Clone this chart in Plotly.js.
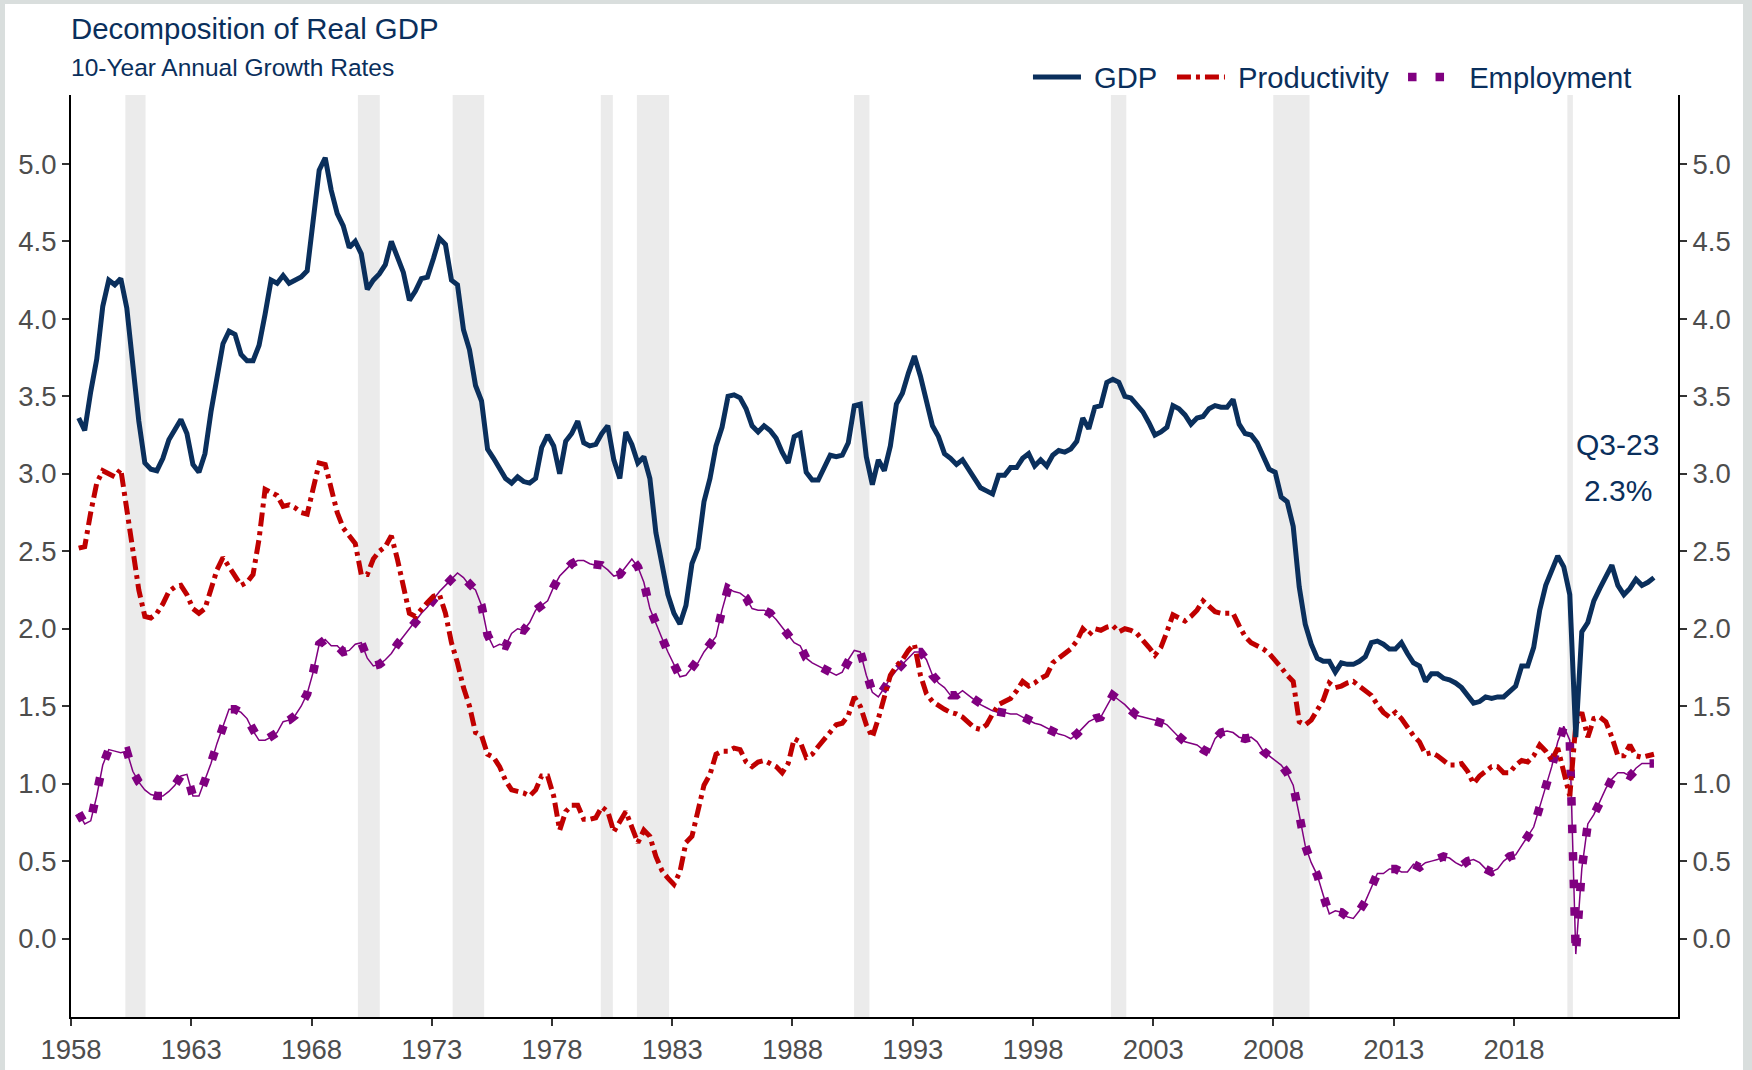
<!DOCTYPE html>
<html><head><meta charset="utf-8">
<script src="https://cdn.plot.ly/plotly-3.0.1.min.js"></script>
<style>
html,body{margin:0;padding:0;background:#d9dedd;width:1752px;height:1070px;overflow:hidden}
#chart{position:absolute;left:5px;top:4px;width:1738px;height:1066px;background:#fff}
</style></head><body><div id="chart"></div><script>
// Quarterly observations, first one plotted at FIRST_X, one quarter apart
const FIRST_X = 1958.32;
const QUARTER = 0.25;

const gdp = [3.36,3.28,3.53,3.74,4.08,4.25,4.22,4.26,4.07,3.71,3.34,3.07,3.03,3.02,3.10,3.22,3.29,3.35,3.26,3.06,
3.01,3.13,3.40,3.64,3.84,3.92,3.90,3.77,3.73,3.73,3.83,4.03,4.25,4.23,4.28,4.23,4.25,4.27,4.31,4.63,
4.96,5.04,4.83,4.68,4.60,4.46,4.50,4.42,4.19,4.25,4.29,4.35,4.50,4.40,4.30,4.12,4.18,4.26,4.27,4.39,
4.52,4.48,4.25,4.22,3.93,3.80,3.57,3.47,3.16,3.10,3.04,2.97,2.94,2.98,2.95,2.94,2.97,3.17,3.25,3.18,
3.00,3.21,3.26,3.34,3.20,3.18,3.19,3.26,3.31,3.09,2.97,3.27,3.19,3.07,3.11,2.97,2.62,2.41,2.22,2.10,
2.03,2.15,2.42,2.52,2.82,2.97,3.18,3.30,3.50,3.51,3.49,3.42,3.31,3.27,3.31,3.28,3.23,3.14,3.07,3.24,
3.26,3.01,2.96,2.96,3.05,3.12,3.11,3.12,3.20,3.44,3.45,3.11,2.93,3.09,3.02,3.18,3.45,3.52,3.65,3.76,
3.63,3.46,3.31,3.24,3.13,3.10,3.06,3.09,3.03,2.97,2.91,2.89,2.87,2.99,2.99,3.04,3.04,3.10,3.13,3.05,
3.09,3.05,3.12,3.15,3.14,3.16,3.21,3.36,3.29,3.43,3.44,3.59,3.61,3.59,3.50,3.49,3.45,3.40,3.33,3.25,
3.27,3.30,3.44,3.42,3.38,3.32,3.36,3.37,3.42,3.44,3.43,3.43,3.48,3.32,3.26,3.25,3.20,3.11,3.03,3.01,
2.85,2.82,2.66,2.27,2.03,1.90,1.81,1.79,1.79,1.72,1.78,1.77,1.77,1.79,1.82,1.91,1.92,1.90,1.87,1.87,
1.91,1.84,1.78,1.76,1.66,1.71,1.71,1.68,1.67,1.65,1.62,1.57,1.52,1.53,1.56,1.55,1.56,1.56,1.59,1.63,
1.76,1.76,1.88,2.12,2.28,2.37,2.47,2.40,2.22,1.30,1.98,2.04,2.18,2.26,2.34,2.41,2.28,2.22,2.26,2.32,
2.28,2.30,2.33];

const productivity = [2.52,2.53,2.75,2.94,3.02,3.00,2.98,3.03,2.77,2.48,2.25,2.08,2.07,2.10,2.16,2.24,2.27,2.28,2.22,2.13,
2.10,2.13,2.26,2.38,2.46,2.40,2.34,2.28,2.30,2.35,2.58,2.90,2.88,2.86,2.79,2.80,2.78,2.75,2.74,2.90,
3.07,3.06,2.89,2.75,2.65,2.60,2.55,2.35,2.35,2.45,2.50,2.53,2.60,2.45,2.28,2.10,2.08,2.13,2.17,2.21,
2.22,2.10,1.91,1.78,1.62,1.50,1.33,1.31,1.19,1.17,1.11,1.02,0.96,0.95,0.94,0.92,0.96,1.05,1.05,0.92,
0.70,0.82,0.86,0.86,0.77,0.77,0.78,0.85,0.82,0.69,0.75,0.82,0.72,0.62,0.70,0.66,0.53,0.44,0.39,0.35,
0.43,0.62,0.66,0.81,0.99,1.06,1.19,1.21,1.21,1.23,1.22,1.14,1.11,1.14,1.15,1.13,1.11,1.07,1.13,1.29,
1.27,1.17,1.19,1.24,1.29,1.34,1.38,1.39,1.44,1.56,1.50,1.38,1.30,1.42,1.55,1.70,1.76,1.80,1.86,1.90,
1.70,1.58,1.53,1.50,1.48,1.46,1.45,1.43,1.40,1.36,1.35,1.38,1.45,1.51,1.53,1.55,1.60,1.66,1.63,1.65,
1.68,1.70,1.78,1.81,1.84,1.87,1.92,2.00,1.96,2.00,1.99,2.01,2.02,1.98,2.00,1.99,1.97,1.93,1.88,1.83,
1.88,1.98,2.09,2.07,2.05,2.08,2.12,2.18,2.14,2.11,2.10,2.10,2.10,2.02,1.95,1.91,1.89,1.87,1.84,1.80,
1.75,1.70,1.66,1.40,1.38,1.41,1.48,1.54,1.65,1.62,1.63,1.65,1.66,1.63,1.60,1.57,1.51,1.46,1.43,1.46,
1.42,1.36,1.31,1.27,1.19,1.20,1.18,1.15,1.12,1.12,1.13,1.08,1.00,1.05,1.08,1.11,1.11,1.07,1.07,1.12,
1.15,1.14,1.18,1.25,1.21,1.15,1.23,1.08,0.92,1.38,1.46,1.30,1.42,1.43,1.40,1.30,1.18,1.18,1.25,1.18,
1.17,1.18,1.19];

const employment = [0.81,0.74,0.76,0.92,1.12,1.22,1.21,1.20,1.21,1.08,1.01,0.96,0.93,0.92,0.92,0.95,0.99,1.05,1.06,0.92,
0.92,1.02,1.13,1.26,1.37,1.48,1.48,1.46,1.42,1.34,1.28,1.28,1.30,1.33,1.40,1.41,1.44,1.50,1.58,1.72,
1.90,1.93,1.89,1.89,1.85,1.86,1.90,1.91,1.81,1.76,1.77,1.80,1.84,1.90,1.95,2.00,2.05,2.10,2.14,2.19,
2.24,2.28,2.32,2.36,2.33,2.28,2.25,2.15,1.96,1.88,1.90,1.89,1.97,2.00,1.99,2.04,2.12,2.15,2.18,2.27,
2.34,2.38,2.42,2.44,2.44,2.42,2.41,2.41,2.38,2.34,2.35,2.40,2.45,2.40,2.30,2.13,2.03,1.94,1.85,1.77,
1.69,1.70,1.75,1.78,1.85,1.90,1.95,2.12,2.26,2.24,2.23,2.20,2.13,2.12,2.12,2.10,2.06,2.01,1.96,1.91,
1.89,1.81,1.78,1.76,1.74,1.72,1.70,1.72,1.80,1.86,1.85,1.70,1.59,1.56,1.62,1.68,1.73,1.77,1.81,1.85,
1.85,1.80,1.70,1.65,1.62,1.57,1.57,1.60,1.57,1.54,1.51,1.49,1.47,1.46,1.46,1.45,1.45,1.43,1.41,1.39,
1.38,1.36,1.34,1.32,1.31,1.29,1.32,1.36,1.40,1.42,1.43,1.50,1.57,1.54,1.51,1.47,1.44,1.43,1.42,1.41,
1.40,1.38,1.34,1.30,1.27,1.26,1.25,1.22,1.20,1.29,1.33,1.34,1.33,1.30,1.29,1.30,1.27,1.21,1.18,1.15,
1.12,1.07,0.99,0.80,0.60,0.49,0.41,0.28,0.16,0.18,0.17,0.14,0.13,0.18,0.24,0.33,0.42,0.42,0.45,0.45,
0.43,0.43,0.48,0.46,0.49,0.50,0.51,0.53,0.52,0.49,0.47,0.50,0.51,0.49,0.45,0.43,0.45,0.50,0.53,0.54,
0.60,0.66,0.72,0.85,0.98,1.11,1.27,1.37,1.28,-0.10,0.45,0.74,0.80,0.88,0.97,1.03,1.07,1.07,1.05,1.10,
1.13,1.13,1.13];

const tickYears = [1958,1963,1968,1973,1978,1983,1988,1993,1998,2003,2008,2013,2018];
const yTicks = [0,0.5,1,1.5,2,2.5,3,3.5,4,4.5,5];
const recessionStart = [1960.26,1969.93,1973.87,1980.03,1981.53,1990.56,2001.24,2007.99,2020.22];
const recessionEnd   = [1961.10,1970.84,1975.18,1980.53,1982.87,1991.20,2001.88,2009.50,2020.45];
const seriesNames = ['GDP', 'Productivity', 'Employment'];
const lastLabel = 'Q3-23';
const lastValueLabel = '2.3%';

const dates = gdp.map((_, i) => FIRST_X + i * QUARTER);

const NAVY = '#0a2f5c';
const RED = '#c00000';
const PURPLE = '#800080';
const FONT = 'Liberation Sans, Arial, sans-serif';
const NB = '\u00a0';

const traces = [
  {x: dates, y: employment, type: 'scatter', mode: 'lines', line: {color: PURPLE, width: 1.5},
   showlegend: false, hoverinfo: 'skip'},
  {x: dates, y: employment, type: 'scatter', mode: 'lines', name: NB + seriesNames[2], legend: 'legend3',
   line: {color: PURPLE, width: 8.5, dash: '8.5px,19px'}},
  {x: dates, y: productivity, type: 'scatter', mode: 'lines', name: NB + seriesNames[1], legend: 'legend2',
   line: {color: RED, width: 5, dash: '14px,5px,4px,5px'}},
  {x: dates, y: gdp, type: 'scatter', mode: 'lines', name: NB + seriesNames[0], legend: 'legend',
   line: {color: NAVY, width: 5}},
  {x: dates, y: gdp, type: 'scatter', mode: 'lines', yaxis: 'y2', showlegend: false,
   hoverinfo: 'skip', opacity: 0, line: {width: 0}}
];

const yr = [-0.506, 5.445];
const axisCommon = {
  showgrid: false, zeroline: false, showline: true, linecolor: '#000', linewidth: 2,
  ticks: 'outside', ticklen: 7, tickwidth: 2, tickcolor: '#333',
  tickfont: {family: FONT, size: 27.5, color: '#4d4d4d'}
};

const shapes = recessionStart.map((s, k) => ({
  type: 'rect', xref: 'x', yref: 'paper', x0: s, x1: recessionEnd[k], y0: 0, y1: 1,
  fillcolor: '#ebebeb', line: {width: 0}, layer: 'below'
}));

function legendAt(xp) {
  return {orientation: 'h', x: xp, xanchor: 'left', y: 1.0195, yanchor: 'middle', itemwidth: 48,
          font: {family: FONT, size: 29.2, color: NAVY}, bgcolor: 'rgba(0,0,0,0)', borderwidth: 0};
}

const layout = {
  width: 1738, height: 1066,
  margin: {l: 66, r: 65, t: 91, b: 53, pad: 0},
  paper_bgcolor: '#fff', plot_bgcolor: '#fff',
  font: {family: FONT, color: NAVY},
  title: {text: 'Decomposition of Real GDP', xref: 'container', yref: 'container',
          x: 66/1738, xanchor: 'left', y: 1 - 25/1066, yanchor: 'middle',
          font: {family: FONT, size: 29.4, color: NAVY}},
  xaxis: Object.assign({}, axisCommon, {range: [1958, 2024.82], tickvals: tickYears,
          ticktext: tickYears.map(String)}),
  yaxis: Object.assign({}, axisCommon, {range: yr, tickvals: yTicks, tickformat: '.1f'}),
  yaxis2: Object.assign({}, axisCommon, {range: yr, tickvals: yTicks, tickformat: '.1f',
          overlaying: 'y', side: 'right'}),
  showlegend: true,
  legend: legendAt(0.5955),
  legend2: legendAt(0.6851),
  legend3: legendAt(0.8289),
  shapes: shapes,
  annotations: [
    {text: '10-Year Annual Growth Rates', xref: 'paper', yref: 'paper', x: -0.001, y: 1.0293,
     xanchor: 'left', yanchor: 'middle', showarrow: false, font: {family: FONT, size: 24.5, color: NAVY}},
    {text: lastLabel, xref: 'x', yref: 'y', x: 2022.32, y: 3.19, showarrow: false,
     xanchor: 'center', yanchor: 'middle', font: {family: FONT, size: 30, color: NAVY}},
    {text: lastValueLabel, xref: 'x', yref: 'y', x: 2022.32, y: 2.89, showarrow: false,
     xanchor: 'center', yanchor: 'middle', font: {family: FONT, size: 30, color: NAVY}}
  ]
};

Plotly.newPlot('chart', traces, layout, {displayModeBar: false, staticPlot: true});
</script></body></html>
